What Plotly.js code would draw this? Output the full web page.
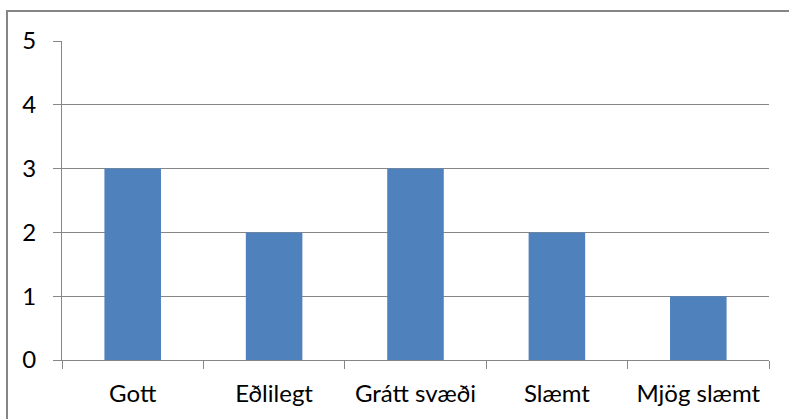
<!DOCTYPE html>
<html><head><meta charset="utf-8">
<script src="https://cdn.plot.ly/plotly-3.0.1.min.js"></script>
<style>body{margin:0;background:#fff}#c{width:789px;height:419px}</style>
</head><body><div id="c"></div>
<script>
const categories = ["Gott", "Eðlilegt", "Grátt svæði", "Slæmt", "Mjög slæmt"];
const values = [3, 2, 3, 2, 1];
const yTicks = [0, 1, 2, 3, 4, 5];

const axisColor = "#868686";
const font = {family: "Lato, 'Open Sans', sans-serif", size: 24, color: "#000"};

Plotly.newPlot("c", [{
  type: "bar", x: categories, y: values,
  marker: {color: "#4F81BD"}, hoverinfo: "skip"
}], {
  width: 789, height: 419,
  margin: {l: 62, r: 20, t: 41, b: 59, pad: 0},
  paper_bgcolor: "#fff", plot_bgcolor: "#fff",
  bargap: 0.6, showlegend: false, font: font,
  xaxis: {
    type: "category", showgrid: false, showline: true, linecolor: axisColor, linewidth: 1,
    ticks: "outside", tickson: "boundaries", ticklen: 8, tickcolor: axisColor, tickwidth: 1,
    ticklabelstandoff: 12, tickfont: font, zeroline: false
  },
  yaxis: {
    range: [0, 5], tickvals: yTicks, showgrid: true, gridcolor: axisColor, gridwidth: 1,
    showline: true, linecolor: axisColor, linewidth: 1, ticks: "outside", ticklen: 8,
    tickcolor: axisColor, ticklabelstandoff: 12, tickfont: font, zeroline: false
  },
  shapes: [{
    type: "rect", xref: "paper", yref: "paper",
    x0: -0.0778, x1: 1.2, y0: -0.5, y1: 1.094,
    line: {color: axisColor, width: 2}, fillcolor: "rgba(0,0,0,0)"
  }]
}, {staticPlot: true});
</script></body></html>
